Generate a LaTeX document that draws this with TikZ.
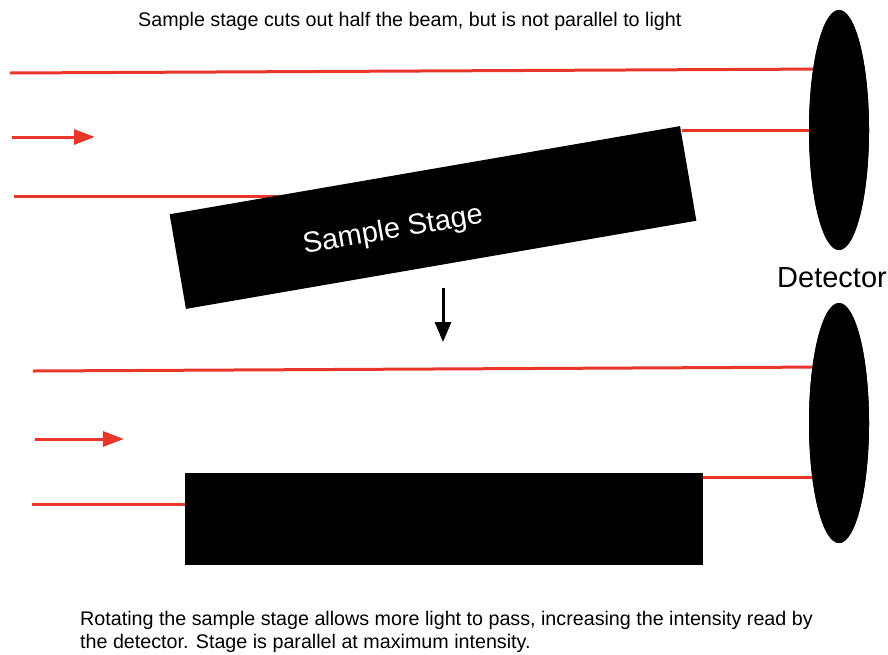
\documentclass[tikz,border=0pt]{standalone}
\usepackage{fontspec}
\setmainfont{Liberation Sans}
\usetikzlibrary{arrows.meta,shapes.geometric}
\definecolor{beamred}{RGB}{232,55,42}
\tikzset{
  beam/.style={draw=beamred, line width=3pt},
  beamarrow/.style={beam, -{Triangle[length=21pt,width=15pt]}},
  detector/.style={ellipse, fill=black, minimum width=60pt, minimum height=240pt, inner sep=0pt},
  stagebox/.style={rectangle, fill=black, inner sep=0pt},
  caption/.style={font=\fontsize{19.7}{23}\selectfont, anchor=base west, inner sep=0pt},
}
\begin{document}
\begin{tikzpicture}[x=1pt,y=-1pt]
\useasboundingbox (0,0) rectangle (888,654);

% detectors
\node[detector] (det1) at (839,130) {};
\node[detector] (det2) at (839,423) {};

% ---- upper setup: tilted stage ----
\coordinate (u1s) at (10,73);   \coordinate (u1e) at (830,69);
\coordinate (u2s) at (682,130);
\coordinate (u3s) at (14,196);  \coordinate (u3e) at (330,196);
\coordinate (ua1) at (12,137);  \coordinate (ua2) at (95,137);
\draw[beam] (u1s) -- (u1e);
\draw[beam] (u2s) -- (det1.center);
\draw[beam] (u3s) -- (u3e);
\draw[beamarrow] (ua1) -- (ua2);

\node[stagebox, rotate=9.8, minimum width=518pt, minimum height=96pt] (stage1) at (433,217.5) {};
\node[text=white, rotate=9.8, font=\fontsize{29}{34}\selectfont, inner sep=0pt] (stagelabel) at (393,231) {Sample Stage};

% ---- lower setup: parallel stage ----
\coordinate (l1s) at (33,371);  \coordinate (l1e) at (830,367);
\coordinate (l2s) at (703,477); \coordinate (l2e) at (830,477);
\coordinate (l3s) at (32,504);  \coordinate (l3e) at (260,504);
\coordinate (la1) at (35,439);  \coordinate (la2) at (124,439);
\draw[beam] (l1s) -- (l1e);
\draw[beam] (l2s) -- (l2e);
\draw[beam] (l3s) -- (l3e);
\draw[beamarrow] (la1) -- (la2);

\node[stagebox, minimum width=518pt, minimum height=92pt] (stage2) at (444,519) {};

% redraw detectors over the beam ends
\node[detector] at (det1.center) {};
\node[detector] at (det2.center) {};

% transition arrow
\coordinate (da1) at (443,288);
\coordinate (da2) at (443,342);
\draw[line width=3pt, -{Triangle[length=20pt,width=16pt]}] (da1) -- (da2);

% texts
\node[font=\fontsize{29}{34}\selectfont, anchor=base west, inner sep=0pt] (detlabel) at (777,287) {Detector};
\node[caption] (toptext) at (138,26) {Sample stage cuts out half the beam, but is not parallel to light};
\node[caption] (bot1) at (80,625) {Rotating the sample stage allows more light to pass, increasing the intensity read by};
\node[caption] (bot2) at (80,648) {the detector. Stage is parallel at maximum intensity.};
\end{tikzpicture}
\end{document}
